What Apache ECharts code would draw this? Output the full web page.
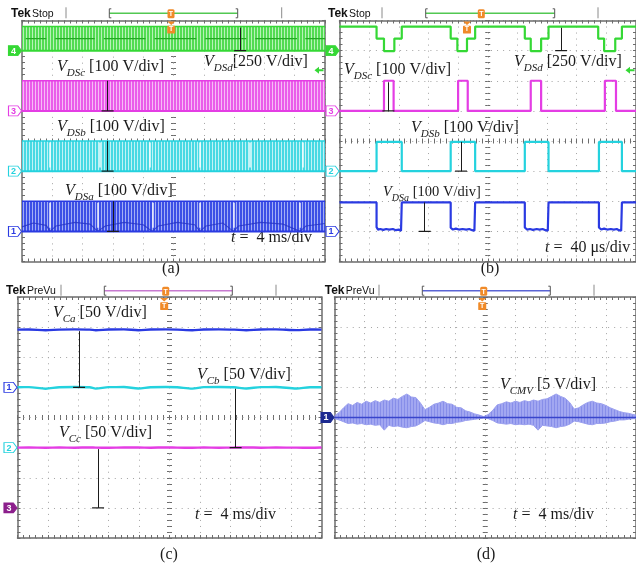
<!DOCTYPE html>
<html><head><meta charset="utf-8">
<script src="https://cdn.jsdelivr.net/npm/echarts@6/dist/echarts.min.js"></script>
<style>html,body{margin:0;padding:0;background:#fff}#c{width:636px;height:566px}</style>
</head><body><div id="c"></div>
<script>
// ===== (a) drain-source voltages, 4 ms/div (time in ms, volts) =====
const aChannels = ['d', 'c', 'b', 'a'];
const aVoltsPerDiv = { d: 250, c: 100, b: 100, a: 100 };
const aGroundDiv = { d: 3, c: 1, b: -1, a: -3 };
const aPeakVolts = { d: 200, c: 100, b: 100, a: 100 };
const aMidVoltsD = 100;
const aMidSegmentsD = [[-19.5, -16.8], [-15.6, -10.4], [-9.2, -3.7], [-2.5, 3.0], [4.2, 9.6], [10.8, 16.3], [17.4, 20]];
const aGaps = { b: [-16.3, -9.7, -3.1, 3.5, 10.1, 17.0], a: [-16.3, -10.0, -2.8, 3.5, 7.9, 16.7] };
const aHumpA = [[-20, 15], [-18.5, 28], [-16.8, 20], [-16.3, 0], [-15.5, 18], [-13, 30], [-11, 24], [-10, 0], [-9, 18], [-6.5, 30], [-4, 22], [-2.8, 0], [-2, 18], [0.5, 30], [2.8, 22], [3.5, 0], [4.3, 18], [6.5, 28], [7.9, 0], [8.6, 18], [11.5, 30], [14.5, 24], [16.7, 0], [17.5, 18], [20, 26]];
const aArrowTime = { d: 8.8, c: -8.7, b: -8.7, a: -8.0 };
const aArrowVolts = { d: 190, c: 100, b: 100, a: 100 };

// ===== (b) drain-source voltages, 40 us/div (time in us, volts) =====
const bVoltsPerDiv = { d: 250, c: 100, b: 100, a: 100 };
const bGroundDiv = { d: 3, c: 1, b: -1, a: -3 };
const bStepD = [[-200, 200], [-150, 100], [-140, -4], [-126, 100], [-116, 200], [-50, 100], [-41, -4], [-28, 100], [-17, 200], [50, 100], [58, -4], [72, 100], [82, 200], [149, 100], [157, -4], [172, 100], [181, 200], [200, 200]];
const bStepC = [[-200, 0], [-140, 100], [-127, 0], [-40, 100], [-27, 0], [58, 100], [72, 0], [158, 100], [173, 0], [200, 0]];
const bStepB = [[-200, 0], [-150, 97], [-116, 0], [-50, 97], [-17, 0], [50, 97], [82, 0], [150, 97], [181, 0], [200, 0]];
const bTraceA = [[-200, 96], [-150, 96], [-150, 14], [-148, 6], [-145, 8], [-141, 5], [-137, 8], [-133, 6], [-128, 8], [-124, 4], [-120, 6], [-117, 2], [-116, 96],
  [-50, 96], [-50, 12], [-47, 6], [-43, 9], [-39, 6], [-34, 8], [-29, 6], [-25, 8], [-21, 4], [-18, 2], [-17, 96],
  [50, 96], [50, 13], [53, 6], [57, 8], [61, 5], [66, 8], [70, 6], [74, 8], [78, 4], [81, 2], [82, 96],
  [150, 96], [150, 13], [153, 6], [157, 9], [161, 6], [166, 8], [170, 6], [174, 8], [177, 4], [180, 2], [181, 96], [200, 96]];
const bArrowTime = { d: 99, c: -134, b: -36, a: -85 };
const bArrowVolts = { d: 190, c: 95, b: 97, a: 96 };

// ===== (c) capacitor voltages, 50 V/div, 4 ms/div =====
const cTime = [-20, -18.5, -16.3, -14.5, -12.5, -10.5, -9.7, -8, -6, -4.1, -2.5, -0.5, 1, 3, 4.5, 6.5, 8.5, 10.1, 12, 14, 16.7, 18.5, 20];
const cVca = [95.8, 96.1, 94.7, 95.9, 96.3, 95.9, 94.8, 96.0, 96.2, 94.9, 96.0, 96.3, 95.9, 94.8, 96.1, 96.3, 95.8, 94.9, 96.1, 96.2, 95.0, 96.0, 95.9];
const cVcb = [100.2, 100.4, 97.8, 100.3, 100.6, 100.2, 98.0, 100.4, 100.5, 98.1, 100.3, 100.6, 100.2, 98.0, 100.4, 100.6, 100.2, 98.2, 100.4, 100.5, 98.1, 100.3, 100.2];
const cVcc = [100.0, 100.3, 99.8, 100.2, 99.9, 100.3, 100.0, 99.8, 100.2, 100.1, 99.9, 100.3, 100.0, 99.8, 100.2, 99.9, 100.1, 100.3, 99.9, 100.1, 100.0, 99.8, 100.1];
const cGroundDiv = { a: 1, b: -1, c: -3 };
const cArrowTime = { a: -11.9, b: 8.7, c: -9.4 };

// ===== (d) common-mode voltage, 5 V/div, 4 ms/div =====
const dTime = [-20, -19.4, -18.8, -18.2, -17.6, -17.0, -16.4, -15.8, -15.2, -14.6, -14.0, -13.4, -12.8, -12.2, -11.6, -11.0, -10.4, -9.8, -9.2, -8.6, -8.0, -7.4, -6.8, -6.2, -5.6, -5.0, -4.4, -3.8, -3.2, -2.6, -2.0, -1.4, -0.8, -0.2,
  0.4, 1.0, 1.6, 2.2, 2.8, 3.4, 4.0, 4.6, 5.2, 5.8, 6.4, 7.0, 7.6, 8.2, 8.8, 9.4, 10.0, 10.6, 11.2, 11.8, 12.4, 13.0, 13.6, 14.2, 14.8, 15.4, 16.0, 16.6, 17.2, 17.8, 18.4, 19.0, 19.6, 20];
const dUpper = [0.3, 0.8, 1.6, 2.3, 2.0, 2.5, 2.2, 2.7, 2.4, 2.8, 2.5, 2.9, 2.7, 3.2, 3.0, 3.5, 3.9, 3.4, 3.3, 2.4, 1.3, 1.7, 2.2, 2.4, 2.7, 2.3, 2.2, 1.7, 1.6, 1.1, 0.9, 0.6, 0.4, 0.15,
  0.5, 1.2, 2.1, 2.3, 2.6, 2.4, 2.7, 2.5, 2.8, 2.6, 2.9, 2.7, 3.0, 3.1, 3.5, 3.9, 3.5, 3.2, 2.5, 1.4, 1.6, 2.1, 2.5, 2.7, 2.4, 2.3, 2.0, 1.6, 1.3, 1.0, 0.8, 0.7, 0.5, 0.4];
const dLower = [-0.2, -0.4, -0.7, -1.0, -0.9, -1.1, -1.0, -1.2, -1.1, -1.3, -1.2, -2.1, -1.3, -1.5, -1.4, -1.6, -1.7, -1.5, -1.4, -1.0, -0.5, -0.7, -0.9, -1.0, -1.2, -1.0, -1.0, -0.8, -0.7, -0.5, -0.4, -0.3, -0.2, -0.1,
  -0.2, -0.5, -0.9, -1.0, -1.1, -1.0, -1.2, -1.1, -1.2, -1.1, -1.3, -2.1, -1.3, -1.4, -1.5, -1.7, -1.5, -1.4, -1.1, -0.6, -0.7, -0.9, -1.1, -1.2, -1.0, -1.0, -0.9, -0.7, -0.6, -0.4, -0.4, -0.3, -0.2, -0.2];
const dVoltsPerDiv = 5;

// ===== trigger positions =====
const triggerTime = [-0.3, -28, -0.7, -0.4];
const triggerLevelDiv = 2.35;

// ---------- look ----------
const SERIF = '"Liberation Serif","Times New Roman",serif';
const SANS = '"Liberation Sans",Arial,sans-serif';
const FRAME = '#6c6c6c', DOT = '#a4a4a4', INK = '#1b1b1b', ORANGE = '#f08a28';
const COL = { green: '#35d835', magenta: '#e43de4', cyan: '#24d2de', blue: '#2a3ae2', purple: '#8c1f8c', navy: '#1d2a90' };

// vertical-streak fill used for densely switching traces
function streaks(base, light, period) {
  const c = document.createElement('canvas');
  c.width = period; c.height = 4;
  const g = c.getContext('2d');
  g.fillStyle = base; g.fillRect(0, 0, period, 4);
  g.fillStyle = light; g.fillRect(period - 1, 0, 1, 4);
  return { image: c, repeat: 'repeat' };
}
const BAND = {
  green: streaks('#52dc52', '#b8f2b8', 3),
  magenta: streaks('#ea5dea', '#f6bdf6', 3),
  cyan: streaks('#48d9e3', '#c0f3f6', 3),
  blue: streaks('#3c4fe6', '#a3aef5', 3)
};

const panels = [
  { left: 22, top: 20.5, width: 303, height: 241, span: [-20, 20], step: 4 },
  { left: 339.5, top: 20.5, width: 303, height: 241, span: [-200, 200], step: 40 },
  { left: 17.5, top: 297, width: 304, height: 241, span: [-20, 20], step: 4 },
  { left: 334.5, top: 297, width: 304, height: 241, span: [-20, 20], step: 4 }
];

// ---------- graticule: frame, dotted grid and centre cross ----------
const xAxes = [], yAxes = [];
panels.forEach((p, g) => {
  const tick = { show: true, inside: true, length: 3, lineStyle: { color: FRAME, width: 1 } };
  const minor = { show: true, splitNumber: 5, length: 3, lineStyle: { color: FRAME, width: 1 } };
  const base = { gridIndex: g, type: 'value', axisLabel: { show: false }, splitLine: { show: false }, axisTick: tick, minorTick: minor };
  const frameLine = { onZero: false, lineStyle: { color: FRAME, width: 1.5 } };
  const xr = { min: p.span[0], max: p.span[1], interval: p.step };
  const yr = { min: -4, max: 4, interval: 1 };
  const vGap = p.height / 40 - 1, hGap = p.width / 50 - 1;
  xAxes.push(
    Object.assign({}, base, xr, { position: 'bottom', axisLine: frameLine, splitLine: { show: true, lineStyle: { color: DOT, width: 1, type: [1, vGap] } } }),
    Object.assign({}, base, xr, { position: 'top', axisLine: frameLine }),
    Object.assign({}, base, xr, { position: 'bottom', axisLine: { show: false, onZero: true, onZeroAxisIndex: 4 * g }, axisTick: Object.assign({}, tick, { length: 2.5 }), minorTick: Object.assign({}, minor, { length: 2.5 }) }),
    Object.assign({}, base, xr, { position: 'bottom', axisLine: { show: false, onZero: true, onZeroAxisIndex: 4 * g }, axisTick: Object.assign({}, tick, { inside: false, length: 2.5 }), minorTick: Object.assign({}, minor, { length: 2.5 }) })
  );
  yAxes.push(
    Object.assign({}, base, yr, { position: 'left', axisLine: frameLine, splitLine: { show: true, lineStyle: { color: DOT, width: 1, type: [1, hGap] } } }),
    Object.assign({}, base, yr, { position: 'right', axisLine: frameLine }),
    Object.assign({}, base, yr, { position: 'left', axisLine: { show: false, onZero: true, onZeroAxisIndex: 4 * g }, axisTick: Object.assign({}, tick, { length: 2.5 }), minorTick: Object.assign({}, minor, { length: 2.5 }) }),
    Object.assign({}, base, yr, { position: 'left', axisLine: { show: false, onZero: true, onZeroAxisIndex: 4 * g }, axisTick: Object.assign({}, tick, { inside: false, length: 2.5 }), minorTick: Object.assign({}, minor, { length: 2.5 }) })
  );
});

// ---------- helpers ----------
const series = [];
const ax = g => ({ xAxisIndex: 4 * g, yAxisIndex: 4 * g });
const BOX = 'path://M0,0H10L14,5L10,10H0Z';
function channelMark(g, num, groundDiv, color, filled) {
  return {
    coord: [panels[g].span[0], groundDiv], symbol: BOX, symbolSize: [13, 10], symbolOffset: [-7, 0],
    itemStyle: filled ? { color: color, borderColor: color, borderWidth: 1 } : { color: '#fff', borderColor: color, borderWidth: 1 },
    label: { show: true, position: 'inside', formatter: String(num), offset: [-1.5, 0.5], color: filled ? '#fff' : color, fontFamily: SANS, fontSize: 9, fontWeight: 'bold' }
  };
}
function triggerMark(g) {
  return {
    coord: [triggerTime[g], 4], symbol: 'path://M0,0H10L5,4Z M1,5H9Q10,5 10,6V13Q10,14 9,14H1Q0,14 0,13V6Q0,5 1,5Z',
    symbolSize: [8, 12], symbolOffset: [0, 7], itemStyle: { color: ORANGE },
    label: { show: true, position: 'inside', formatter: 'T', offset: [0, 2], color: '#fff', fontFamily: SANS, fontSize: 7, fontWeight: 'bold' }
  };
}
function levelMark(g) {
  return {
    coord: [panels[g].span[1], triggerLevelDiv], symbol: 'path://M0,5L6,0V3.5H12V6.5H6V10Z',
    symbolSize: [9, 7], symbolOffset: [-6, 0], itemStyle: { color: COL.green }, label: { show: false }
  };
}
function arrowLine(t, y0, y1) {
  return [{ coord: [t, y0] }, { coord: [t, y1] }];
}
function arrowFoot(t, y0) {
  return { coord: [t, y0], symbol: 'rect', symbolSize: [12, 1.2], itemStyle: { color: INK }, label: { show: false } };
}
const arrowStyle = { symbol: ['none', 'triangle'], symbolSize: [0, 6], silent: true, animation: false, label: { show: false }, lineStyle: { color: INK, width: 1, type: 'solid' } };

// ---------- (a) ----------
const aColor = { d: 'green', c: 'magenta', b: 'cyan', a: 'blue' };
const aNum = { d: 4, c: 3, b: 2, a: 1 };
aChannels.forEach(ch => {
  const s = aVoltsPerDiv[ch], g0 = aGroundDiv[ch], name = aColor[ch];
  const top = g0 + aPeakVolts[ch] / s;
  series.push(Object.assign({
    type: 'line', symbol: 'none', silent: true, data: [[-20, top], [20, top]],
    lineStyle: { color: COL[name], width: 1.5 },
    areaStyle: { origin: g0, color: BAND[name], opacity: 1 },
    markLine: aGaps[ch] ? { symbol: 'none', silent: true, label: { show: false }, lineStyle: { color: 'rgba(255,255,255,0.9)', width: 1.5, type: 'solid' }, data: aGaps[ch].map(t => arrowLine(t, g0 + 0.12, top - 0.05)) } : undefined
  }, ax(0)));
});
// dark mid level of phase d
series.push(Object.assign({
  type: 'line', symbol: 'none', silent: true, connectNulls: false,
  data: aMidSegmentsD.flatMap(([t0, t1]) => [[t0, aGroundDiv.d + aMidVoltsD / aVoltsPerDiv.d], [t1, aGroundDiv.d + aMidVoltsD / aVoltsPerDiv.d], [t1, null]]),
  lineStyle: { color: '#22aa22', width: 1.4 }
}, ax(0)));
// darker inner pattern of phase a
series.push(Object.assign({
  type: 'line', symbol: 'none', silent: true,
  data: aHumpA.map(([t, v]) => [t, aGroundDiv.a + v / aVoltsPerDiv.a]),
  lineStyle: { color: '#2533c4', width: 1.1, opacity: 0.8 }
}, ax(0)));
// ground traces, arrows and channel markers
aChannels.forEach(ch => {
  const g0 = aGroundDiv[ch], name = aColor[ch];
  const tip = g0 + aArrowVolts[ch] / aVoltsPerDiv[ch];
  series.push(Object.assign({
    type: 'line', symbol: 'none', silent: true, data: [[-20, g0], [20, g0]],
    lineStyle: { color: COL[name], width: 2 },
    markLine: Object.assign({}, arrowStyle, { data: [arrowLine(aArrowTime[ch], g0, tip)] }),
    markPoint: { silent: true, animation: false, data: [channelMark(0, aNum[ch], g0, COL[name], ch === 'd'), arrowFoot(aArrowTime[ch], g0)].concat(ch === 'd' ? [triggerMark(0), levelMark(0)] : []) }
  }, ax(0)));
});

// ---------- (b) ----------
const bSet = [
  { ch: 'd', data: bStepD, step: 'end', name: 'green', num: 4, filled: true },
  { ch: 'c', data: bStepC, step: 'end', name: 'magenta', num: 3, filled: false },
  { ch: 'b', data: bStepB, step: 'end', name: 'cyan', num: 2, filled: false },
  { ch: 'a', data: bTraceA, step: false, name: 'blue', num: 1, filled: false }
];
bSet.forEach(o => {
  const s = bVoltsPerDiv[o.ch], g0 = bGroundDiv[o.ch];
  const tip = g0 + bArrowVolts[o.ch] / s;
  series.push(Object.assign({
    type: 'line', symbol: 'none', silent: true, step: o.step,
    data: o.data.map(([t, v]) => [t, g0 + v / s]),
    lineStyle: { color: COL[o.name], width: 2.2 },
    markLine: Object.assign({}, arrowStyle, { data: [arrowLine(bArrowTime[o.ch], g0, tip)] }),
    markPoint: { silent: true, animation: false, data: [channelMark(1, o.num, g0, COL[o.name], o.filled), arrowFoot(bArrowTime[o.ch], g0)].concat(o.ch === 'd' ? [triggerMark(1), levelMark(1)] : []) }
  }, ax(1)));
});

// ---------- (c) ----------
const cSet = [
  { key: 'a', values: cVca, color: COL.blue, num: 1 },
  { key: 'b', values: cVcb, color: COL.cyan, num: 2 },
  { key: 'c', values: cVcc, color: COL.magenta, num: 3 }
];
cSet.forEach(o => {
  const g0 = cGroundDiv[o.key];
  const level = g0 + o.values[0] / 50;
  series.push(Object.assign({
    type: 'line', symbol: 'none', silent: true, smooth: 0.3,
    data: cTime.map((t, i) => [t, g0 + o.values[i] / 50]),
    lineStyle: { color: o.color, width: 2.4 },
    markLine: Object.assign({}, arrowStyle, { data: [arrowLine(cArrowTime[o.key], g0, level - 0.05)] }),
    markPoint: { silent: true, animation: false, data: [
      o.key === 'c' ? channelMark(2, 3, g0, COL.purple, true) : channelMark(2, o.num, g0, o.color, false),
      arrowFoot(cArrowTime[o.key], g0)
    ].concat(o.key === 'a' ? [triggerMark(2)] : []) }
  }, ax(2)));
});

// ---------- (d) ----------
const dFill = streaks('#a2a7f1', '#878ee9', 3);
[dUpper, dLower].forEach(env => {
  series.push(Object.assign({
    type: 'line', symbol: 'none', silent: true, data: dTime.map((t, i) => [t, env[i] / dVoltsPerDiv]),
    lineStyle: { color: '#9ba0ee', width: 1 }, areaStyle: { origin: 0, color: dFill, opacity: 1 }
  }, ax(3)));
});
series.push(Object.assign({
  type: 'line', symbol: 'none', silent: true, data: [[-20, 0], [20, 0]],
  lineStyle: { color: '#3844cc', width: 1.6 },
  markPoint: { silent: true, animation: false, data: [channelMark(3, 1, 0, COL.navy, true), triggerMark(3)] }
}, ax(3)));

// ---------- text ----------
function vLabel(x, y, main, sub, rest, size) {
  const sub0 = Math.round(size * 0.7);
  return {
    type: 'text', x: x, y: y, silent: true,
    style: {
      text: `{v|${main}}{s|${sub}}{n|${rest}}`, verticalAlign: 'middle', align: 'left',
      rich: {
        v: { fontFamily: SERIF, fontStyle: 'italic', fontSize: size, lineHeight: size + 8, fill: INK },
        s: { fontFamily: SERIF, fontStyle: 'italic', fontSize: sub0, lineHeight: sub0, verticalAlign: 'bottom', fill: INK },
        n: { fontFamily: SERIF, fontSize: size, lineHeight: size + 8, fill: INK }
      }
    }
  };
}
function tLabel(x, y, rest) {
  return {
    type: 'text', x: x, y: y, silent: true,
    style: { text: `{i|t}{n| =  ${rest}}`, verticalAlign: 'middle', rich: {
      i: { fontFamily: SERIF, fontStyle: 'italic', fontSize: 16, fill: INK },
      n: { fontFamily: SERIF, fontSize: 16, fill: INK } } }
  };
}
function caption(x, y, s) {
  return { type: 'text', x: x, y: y, silent: true, style: { text: s, font: `16px ${SERIF}`, fill: INK, align: 'center', verticalAlign: 'middle' } };
}
function header(o) {
  return [
    { type: 'text', x: o.x, y: o.y, style: { text: 'Tek', font: `bold 12px ${SANS}`, fill: '#111', verticalAlign: 'middle' } },
    { type: 'text', x: o.x + 21, y: o.y + 0.5, style: { text: o.mode, font: `10.5px ${SANS}`, fill: '#111', verticalAlign: 'middle' } },
    { type: 'line', shape: { x1: o.sep1, y1: o.y - 6, x2: o.sep1, y2: o.y + 5 }, style: { stroke: '#8a8a8a', lineWidth: 1 } },
    { type: 'line', shape: { x1: o.sep2, y1: o.y - 6, x2: o.sep2, y2: o.y + 5 }, style: { stroke: '#8a8a8a', lineWidth: 1 } },
    { type: 'line', shape: { x1: o.b0, y1: o.y, x2: o.b1, y2: o.y }, style: { stroke: o.bar, lineWidth: 1.6 } },
    { type: 'polyline', shape: { points: [[o.b0 + 2, o.y - 4.5], [o.b0, o.y - 4.5], [o.b0, o.y + 4.5], [o.b0 + 2, o.y + 4.5]] }, style: { stroke: '#555', lineWidth: 1, fill: null } },
    { type: 'polyline', shape: { points: [[o.b1 - 2, o.y - 4.5], [o.b1, o.y - 4.5], [o.b1, o.y + 4.5], [o.b1 - 2, o.y + 4.5]] }, style: { stroke: '#555', lineWidth: 1, fill: null } },
    { type: 'rect', shape: { x: o.trig - 3.5, y: o.y - 4, width: 7, height: 9, r: 1.5 }, style: { fill: ORANGE } },
    { type: 'text', x: o.trig, y: o.y + 1, style: { text: 'T', font: `bold 7px ${SANS}`, fill: '#fff', align: 'center', verticalAlign: 'middle' } }
  ];
}

const graphics = [].concat(
  header({ x: 11, y: 13.3, mode: 'Stop', sep1: 66, sep2: 281.7, b0: 109.3, b1: 237.7, trig: 171, bar: '#52c852' }),
  header({ x: 328, y: 13.3, mode: 'Stop', sep1: 382, sep2: 598, b0: 425.7, b1: 554.7, trig: 481.3, bar: '#52c852' }),
  header({ x: 6, y: 290.7, mode: 'PreVu', sep1: 61, sep2: 276, b0: 104.3, b1: 232.3, trig: 165.7, bar: '#c77ad0' }),
  header({ x: 324.7, y: 290.7, mode: 'PreVu', sep1: 379, sep2: 594, b0: 422.3, b1: 550.3, trig: 483.7, bar: '#5a64d4' }),
  [
    vLabel(204, 62, 'V', 'DSd', '[250 V/div]', 16),
    vLabel(57, 67, 'V', 'DSc', ' [100 V/div]', 16),
    vLabel(57, 127, 'V', 'DSb', ' [100 V/div]', 16),
    vLabel(65, 191, 'V', 'DSa', ' [100 V/div]', 16),
    tLabel(231, 238, '4 ms/div'),
    vLabel(514, 62, 'V', 'DSd', ' [250 V/div]', 16),
    vLabel(344, 70, 'V', 'DSc', ' [100 V/div]', 16),
    vLabel(411, 128, 'V', 'DSb', ' [100 V/div]', 16),
    vLabel(383, 192, 'V', 'DSa', ' [100 V/div]', 14.5),
    tLabel(545, 248, '40 \u03bcs/div'),
    vLabel(53, 313, 'V', 'Ca', ' [50 V/div]', 16),
    vLabel(197, 375, 'V', 'Cb', ' [50 V/div]', 16),
    vLabel(59, 433, 'V', 'Cc', ' [50 V/div]', 16),
    tLabel(195, 515, '4 ms/div'),
    vLabel(500, 385, 'V', 'CMV', ' [5 V/div]', 16),
    tLabel(513, 515, '4 ms/div'),
    caption(171, 269, '(a)'),
    caption(490, 269, '(b)'),
    caption(169, 555, '(c)'),
    caption(486, 555, '(d)')
  ]
);

const chart = echarts.init(document.getElementById('c'), null, { renderer: 'canvas' });
chart.setOption({
  animation: false,
  backgroundColor: '#fff',
  grid: panels.map(p => ({ left: p.left, top: p.top, width: p.width, height: p.height, containLabel: false })),
  xAxis: xAxes,
  yAxis: yAxes,
  series: series,
  graphic: { elements: graphics }
});
</script>
</body></html>
